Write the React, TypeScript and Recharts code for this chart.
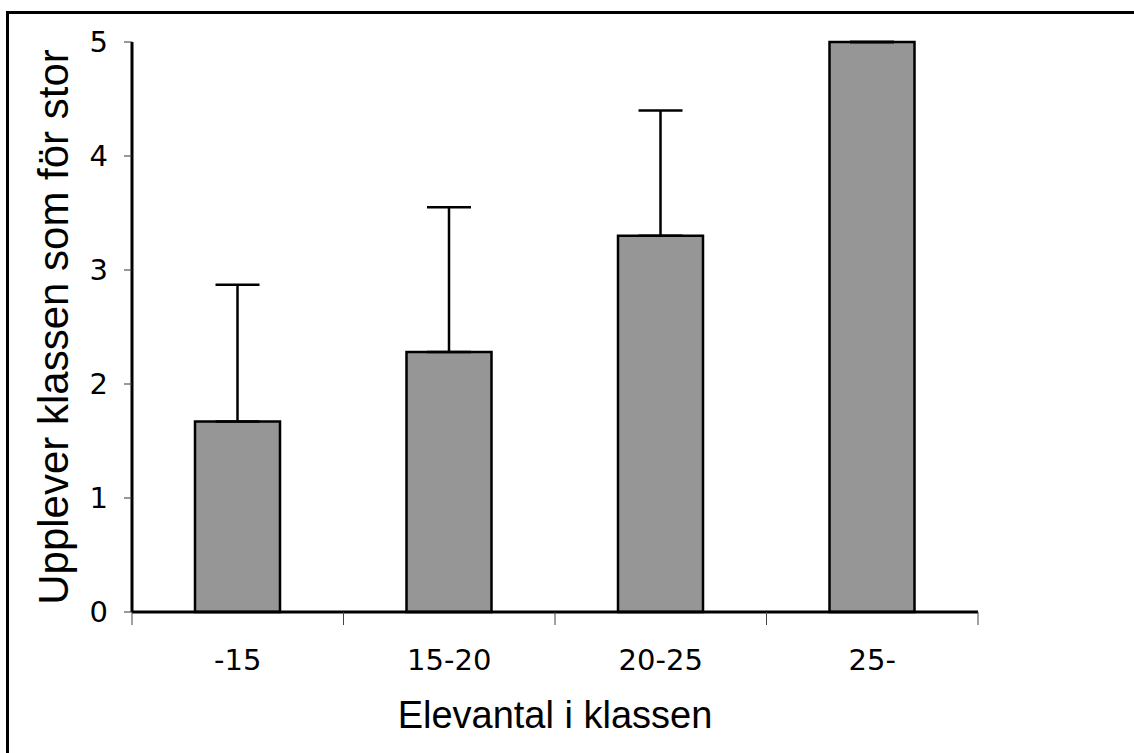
import React from "react";
import { BarChart, Bar, XAxis, YAxis, ErrorBar } from "recharts";

const categories = ["-15", "15-20", "20-25", "25-"];
const means = [1.67, 2.28, 3.3, 5.0];
const upperErrors = [1.2, 1.27, 1.1, 0];
const yTicks = [0, 1, 2, 3, 4, 5];

const data = categories.map((c, i) => ({
  group: c,
  mean: means[i],
  err: [0, upperErrors[i]],
}));

const W = 1134;
const H = 753;
const Y_W = 100;
const X_H = 120;
const margin = { top: 42, right: 156, bottom: 21, left: 32 };
const band = (W - margin.left - margin.right - Y_W) / categories.length;

const tickFont = "'DejaVu Sans', Verdana, sans-serif";
const titleFont = "'Liberation Sans', Arial, sans-serif";

function XTick(props: any) {
  const { x, y, payload, index } = props;
  const last = index === categories.length - 1;
  return (
    <g>
      <line x1={x - band / 2} x2={x - band / 2} y1={y} y2={y + 13} stroke="#444" strokeWidth={1} />
      {last && (
        <line x1={x + band / 2} x2={x + band / 2} y1={y} y2={y + 13} stroke="#444" strokeWidth={1} />
      )}
      <text x={x} y={y + 58} textAnchor="middle" fontFamily={tickFont} fontSize={29} fill="#000">
        {payload.value}
      </text>
    </g>
  );
}

export default function App() {
  return (
    <div style={{ position: "absolute", left: 0, top: 0, width: W, height: H, background: "#fff", overflow: "hidden" }}>
      <div
        style={{
          position: "absolute",
          left: 6,
          top: 11,
          right: -10,
          bottom: -10,
          borderTop: "3px solid #000",
          borderLeft: "3px solid #000",
        }}
      />
      <div style={{ position: "absolute", left: 0, top: 0 }}>
        <BarChart width={W} height={H} data={data} margin={margin}>
          <XAxis
            dataKey="group"
            height={X_H}
            tickLine={false}
            tickSize={0}
            tickMargin={0}
            axisLine={{ stroke: "#000", strokeWidth: 3 }}
            tick={<XTick />}
            interval={0}
            label={{
              value: "Elevantal i klassen",
              position: "insideBottom",
              offset: 4,
              style: { fontFamily: titleFont, fontSize: 38, fill: "#000" },
            }}
          />
          <YAxis
            width={Y_W}
            domain={[0, 5]}
            ticks={yTicks}
            interval={0}
            tickSize={8}
            tickMargin={16}
            axisLine={{ stroke: "#000", strokeWidth: 3 }}
            tickLine={{ stroke: "#333", strokeWidth: 1 }}
            tick={{ fontFamily: tickFont, fontSize: 29, fill: "#000" }}
            label={{
              value: "Upplever klassen som för stor",
              angle: -90,
              position: "insideLeft",
              offset: 21,
              textAnchor: "middle",
              style: { fontFamily: titleFont, fontSize: 42, fill: "#000", textAnchor: "middle" },
            }}
          />
          <Bar dataKey="mean" fill="#969696" stroke="#000" strokeWidth={2.5} barSize={85} isAnimationActive={false}>
            <ErrorBar dataKey="err" direction="y" width={22} stroke="#000" strokeWidth={2.5} />
          </Bar>
        </BarChart>
      </div>
    </div>
  );
}
